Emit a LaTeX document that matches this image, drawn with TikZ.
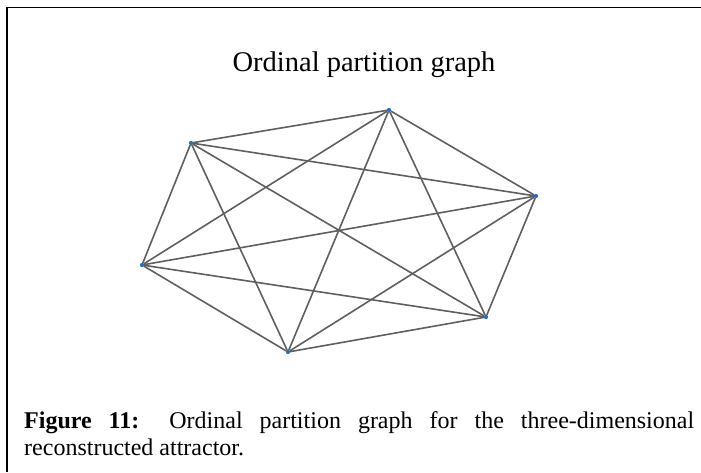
\documentclass[tikz,border=0pt]{standalone}
\usepackage{fontspec}
\setmainfont{Liberation Serif}
\definecolor{edgegray}{RGB}{95,95,95}
\definecolor{dotblue}{RGB}{40,110,190}
\tikzset{
  vtx/.style={circle,fill=dotblue,inner sep=0pt,minimum size=4pt},
  edge/.style={draw=edgegray,line width=1.6pt},
  frameline/.style={draw=black,line width=1.2pt}
}
\begin{document}
\begin{tikzpicture}[x=1pt,y=-1pt]
\useasboundingbox (0,0) rectangle (701,472);
\draw[frameline] (7,472) -- (7,7.5) -- (701,7.5);
\node[font=\fontsize{28.5}{30}\selectfont,anchor=base] (title) at (364,71) {Ordinal partition graph};
\node (a) [vtx] at (191,143) {};
\node (b) [vtx] at (389,110) {};
\node (c) [vtx] at (536,196) {};
\node (d) [vtx] at (142,265) {};
\node (e) [vtx] at (288,352) {};
\node (f) [vtx] at (486,317) {};
\foreach \u/\v in {a/b,a/c,a/d,a/e,a/f,b/c,b/d,b/e,b/f,c/d,c/e,c/f,d/e,d/f,e/f}
  \draw[edge] (\u) -- (\v);
\foreach \n in {a,b,c,d,e,f} \fill[dotblue] (\n) circle (2pt);
\node[anchor=north west,inner sep=0pt,font=\fontsize{24}{27}\selectfont,text width=670pt,align=justify] (cap) at (24,411)
  {\textbf{Figure 11:} Ordinal partition graph for the three-dimensional\linebreak reconstructed attractor.};
\end{tikzpicture}
\end{document}
